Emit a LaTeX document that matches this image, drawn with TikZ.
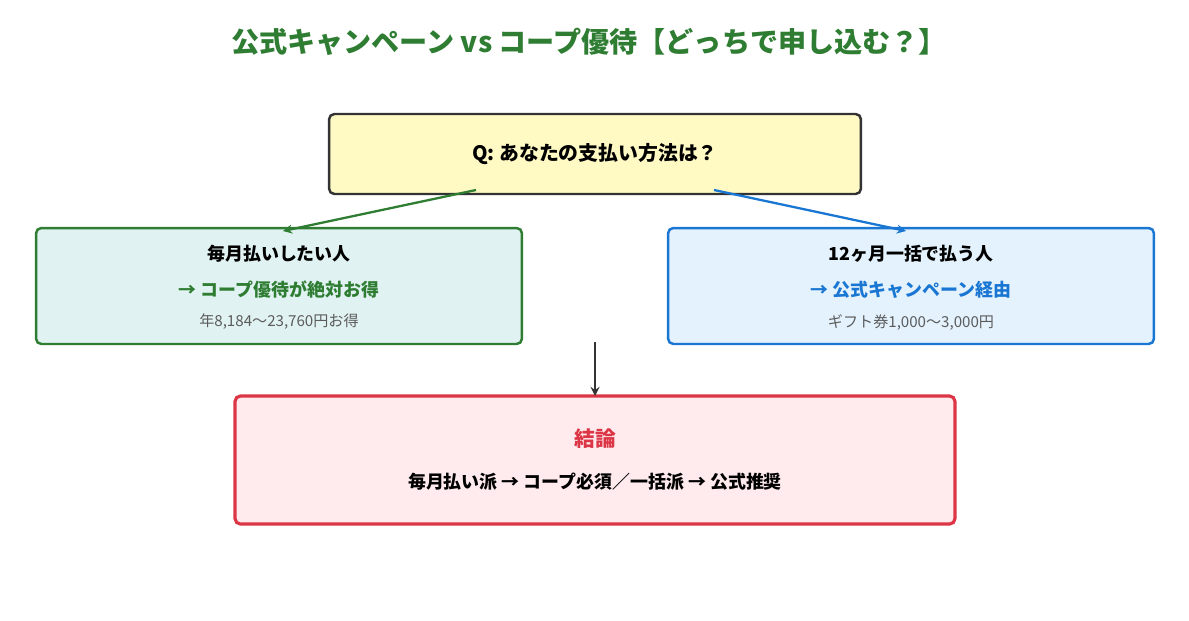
\documentclass[tikz,border=0pt]{standalone}
\usepackage{fontspec}
\setmainfont{Noto Sans CJK JP}
\usetikzlibrary{positioning}
\definecolor{qfill}{HTML}{FFF9C4}
\definecolor{gfill}{HTML}{E0F2F1}
\definecolor{gline}{HTML}{2E7D32}
\definecolor{bfill}{HTML}{E3F2FD}
\definecolor{bline}{HTML}{1976D2}
\definecolor{rfill}{HTML}{FFEBEE}
\definecolor{rline}{HTML}{DC3545}
\definecolor{dark}{HTML}{333333}
\tikzset{
  box/.style={rectangle, rounded corners=3pt, line width=1.4pt, align=center, inner sep=0pt},
  arrow/.style={line width=1.3pt,->,>=stealth}
}
\begin{document}
\begin{tikzpicture}[x=0.02cm,y=-0.02cm]
	\useasboundingbox (0,0) rectangle (1189,620);
	\node (title) at (589,42) {\fontsize{16}{19}\selectfont\bfseries\color{gline}公式キャンペーン vs コープ優待【どっちで申し込む？】};
	\node (q) [box, draw=dark, fill=qfill, minimum width=10.64cm, minimum height=1.6cm] at (595,154) {\fontsize{11.3}{14}\selectfont\bfseries Q: あなたの支払い方法は？};
	\node (left) [box, draw=gline, fill=gfill, minimum width=9.72cm, minimum height=2.32cm] at (279,286) {};
	\node (right) [box, draw=bline, fill=bfill, minimum width=9.72cm, minimum height=2.32cm] at (911,286) {};
	\node (res) [box, draw=rline, fill=rfill, line width=1.8pt, minimum width=14.4cm, minimum height=2.56cm] at (595,460) {};
	% left texts
	\node (l1) at (279,254) {\fontsize{10.2}{12}\selectfont\bfseries 毎月払いしたい人};
	\node (l2) at (279,290) {\fontsize{10.2}{12}\selectfont\bfseries\color{gline}→ コープ優待が絶対お得};
	\node (l3) at (279,322) {\fontsize{8.6}{10}\selectfont\color{dark!80}年8,184〜23,760円お得};
	% right texts
	\node (r1) at (911,254) {\fontsize{10.2}{12}\selectfont\bfseries 12ヶ月一括で払う人};
	\node (r2) at (911,290) {\fontsize{10.2}{12}\selectfont\bfseries\color{bline}→ 公式キャンペーン経由};
	\node (r3) at (911,322) {\fontsize{8.6}{10}\selectfont\color{dark!80}ギフト券1,000〜3,000円};
	% result texts
	\node (c1) at (595,439) {\fontsize{11.8}{14}\selectfont\bfseries\color{rline}結論};
	\node (c2) at (595,482) {\fontsize{10.2}{12}\selectfont\bfseries 毎月払い派 → コープ必須／一括派 → 公式推奨};
	\coordinate (qa) at (476,190);
	\coordinate (qb) at (714,190);
	\coordinate (la) at (283,231);
	\coordinate (rb) at (906,231);
	\coordinate (ma) at (595,342);
	\coordinate (mb) at (595,396);
	\draw [arrow, gline] (qa) -- (la);
	\draw [arrow, bline] (qb) -- (rb);
	\draw [arrow, dark] (ma) -- (mb);
\end{tikzpicture}
\end{document}
